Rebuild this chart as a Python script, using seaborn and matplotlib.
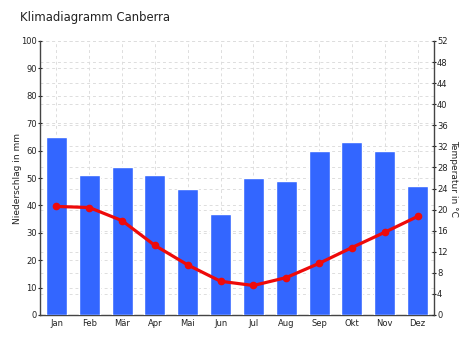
import matplotlib
matplotlib.use("Agg")
from matplotlib import pyplot as plt
import seaborn as sns
import pandas as pd

months = ['Jan', 'Feb', 'Mär', 'Apr', 'Mai', 'Jun', 'Jul', 'Aug', 'Sep', 'Okt', 'Nov', 'Dez']
precip_mm = [65, 51, 54, 51, 46, 37, 50, 49, 60, 63, 60, 47]
temp_c = [20.6, 20.4, 17.9, 13.2, 9.5, 6.4, 5.6, 7.1, 9.8, 12.8, 15.7, 18.7]

df = pd.DataFrame({'Monat': months, 'Niederschlag': precip_mm, 'Temperatur': temp_c})

sns.set_style('white')
plt.rcParams['font.family'] = ['DejaVu Sans']

fig = plt.figure(figsize=(4.74, 3.55), dpi=100)
ax = fig.add_axes([40 / 474, 1 - 315 / 355, 394 / 474, 274 / 355])

grid_kw = dict(color='#dddddd', linestyle=(0, (3, 3)), linewidth=0.7, zorder=0)

# grid behind the bars: left axis every 10 mm, right axis every 4 °C
for y in range(10, 101, 10):
    ax.axhline(y, **grid_kw)
for t in range(4, 53, 4):
    ax.axhline(t * 100 / 52, **grid_kw)
for x in range(12):
    ax.axvline(x, **grid_kw)

sns.barplot(data=df, x='Monat', y='Niederschlag', color='#3366ff', saturation=1,
            width=0.64, ax=ax)
for p in ax.patches:
    p.set_zorder(3)
ax.set_xlim(-0.5, 11.5)
ax.set_ylim(0, 100)
ax.set_yticks(range(0, 101, 10))
ax.set_xlabel('')
ax.set_ylabel('Niederschlag in mm', fontsize=6.5, color='#222222', va='center')
ax.yaxis.set_label_coords(-23 / 394, 0.5)

ax2 = ax.twinx()
ax2.set_ylim(0, 52)
ax2.set_yticks(range(0, 53, 4))
ax2.plot(range(12), df['Temperatur'], color='#ee0a0a', linewidth=2.3,
         marker='o', markersize=4.5, zorder=5)
ax2.set_ylabel('Temperatur in °C', fontsize=6.5, color='#222222', rotation=270, va='center')
ax2.yaxis.set_label_coords(1 + 20 / 394, 0.5)

for a in (ax, ax2):
    a.tick_params(axis='both', labelsize=6, colors='#222222', length=3.5, width=0.8,
                  direction='inout', pad=0.5)
    for s in a.spines.values():
        s.set_visible(False)
ax.spines['left'].set_visible(True)
ax.spines['bottom'].set_visible(True)
ax2.spines['right'].set_visible(True)
for s in (ax.spines['left'], ax.spines['bottom'], ax2.spines['right']):
    s.set_color('#444444')
    s.set_linewidth(1.0)
ax.tick_params(axis='x', length=0, pad=3)
ax.tick_params(axis='y', left=True)
ax2.tick_params(axis='y', right=True)

fig.text(20 / 474, 1 - 18 / 355, 'Klimadiagramm Canberra', fontsize=8.4,
         color='#222222', va='center', ha='left')

fig.savefig('out.png', dpi=100)
